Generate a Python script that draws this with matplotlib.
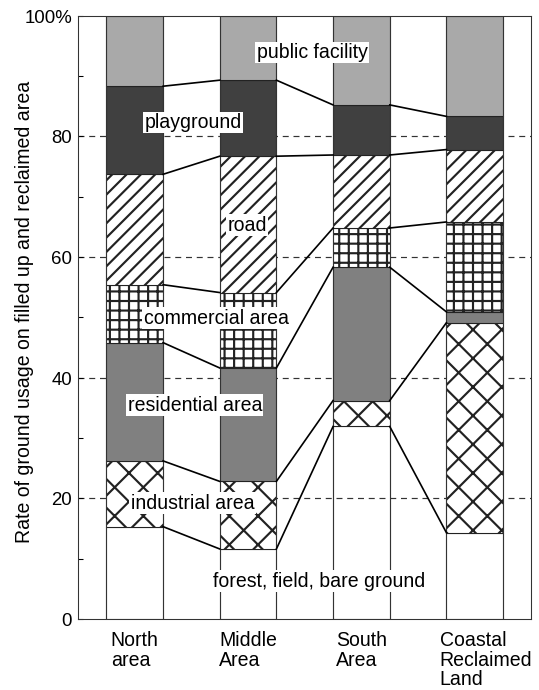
import numpy as np
import matplotlib
matplotlib.use("Agg")
import matplotlib.pyplot as plt

# land-use shares (%) per area, bottom to top of each column
areas = ["North\narea", "Middle\nArea", "South\nArea", "Coastal\nReclaimed\nLand"]
forest = [15.3, 11.6, 31.9, 14.3]
industrial = [10.9, 11.2, 4.3, 34.8]
residential = [19.6, 18.8, 22.1, 1.8]
commercial = [9.6, 12.5, 6.5, 14.9]
road = [18.3, 22.6, 12.1, 12.0]
playground = [14.6, 12.6, 8.3, 5.5]
public = [11.7, 10.7, 14.8, 16.7]

layers = [forest, industrial, residential, commercial, road, playground, public]
names = ["forest, field, bare ground", "industrial area", "residential area",
         "commercial area", "road", "playground", "public facility"]
fills = ["none", "white", "#808080", "white", "white", "#404040", "#a9a9a9"]
hatches = [None, "xx", None, "+++", "////", None, None]

plt.rcParams["font.family"] = ["Liberation Sans", "DejaVu Sans"]
plt.rcParams["hatch.linewidth"] = 0.9

dpi = 172
fig = plt.figure(figsize=(539.4 / dpi, 690.4 / dpi), dpi=dpi)
ax = fig.add_axes([0.1447, 0.1029, 0.8405, 0.8739])

x = np.arange(len(areas))
w = 0.5
bottom = np.zeros(len(areas))
tops = []
for vals, fc, h in zip(layers, fills, hatches):
    vals = np.array(vals)
    ax.bar(x, vals, w, bottom=bottom, color=fc, edgecolor="#222222",
           hatch=h, linewidth=0.45, zorder=2)
    bottom = bottom + vals
    tops.append(bottom.copy())

# full-height column outlines
for xi in x:
    ax.vlines([xi - w / 2, xi + w / 2], 0, 100, color="#333333", lw=0.45, zorder=2.5)

# lines joining the same boundary between neighbouring columns
for t in tops[:-1]:
    for i in range(len(areas) - 1):
        ax.plot([x[i] + w / 2, x[i + 1] - w / 2], [t[i], t[i + 1]],
                color="black", lw=0.7, zorder=3)

# labels for each use
label_pos = [(1.63, 6.3), (0.51, 19.2), (0.53, 35.5), (0.72, 49.9),
             (0.99, 65.3), (0.515, 82.3), (1.566, 93.9)]
for name, (lx, ly) in zip(names, label_pos):
    ax.text(lx, ly, name, ha="center", va="center", fontsize=8.2, zorder=5,
            bbox=dict(facecolor="white", edgecolor="none", pad=0.6))

ax.set_xlim(-0.5, 3.5)
ax.set_ylim(0, 100)
ax.set_yticks(np.arange(0, 101, 20))
ax.set_yticklabels(["0", "20", "40", "60", "80", "100%"])
ax.set_yticks(np.arange(10, 100, 20), minor=True)
ax.tick_params(axis="y", which="both", direction="in", length=2.1, width=0.45,
               pad=2.5, labelsize=7.8)
ax.set_xticks([])
for g in [20, 40, 60, 80]:
    ax.axhline(g, color="#333333", lw=0.5, ls=(0, (5, 4)), zorder=1)

for i, name in enumerate(areas):
    dx = 0.1 if i == len(areas) - 1 else 0.0
    ax.text(x[i] + dx, -2.0, name, ha="center", va="top", multialignment="left",
            fontsize=8.2, linespacing=1.02)

for s in ax.spines.values():
    s.set_linewidth(0.45)
    s.set_color("#333333")

ax.set_ylabel("Rate of ground usage on filled up and reclaimed area", fontsize=8.2)
ax.yaxis.set_label_coords(-0.097, 0.51)

fig.savefig("out.png", dpi=dpi)
